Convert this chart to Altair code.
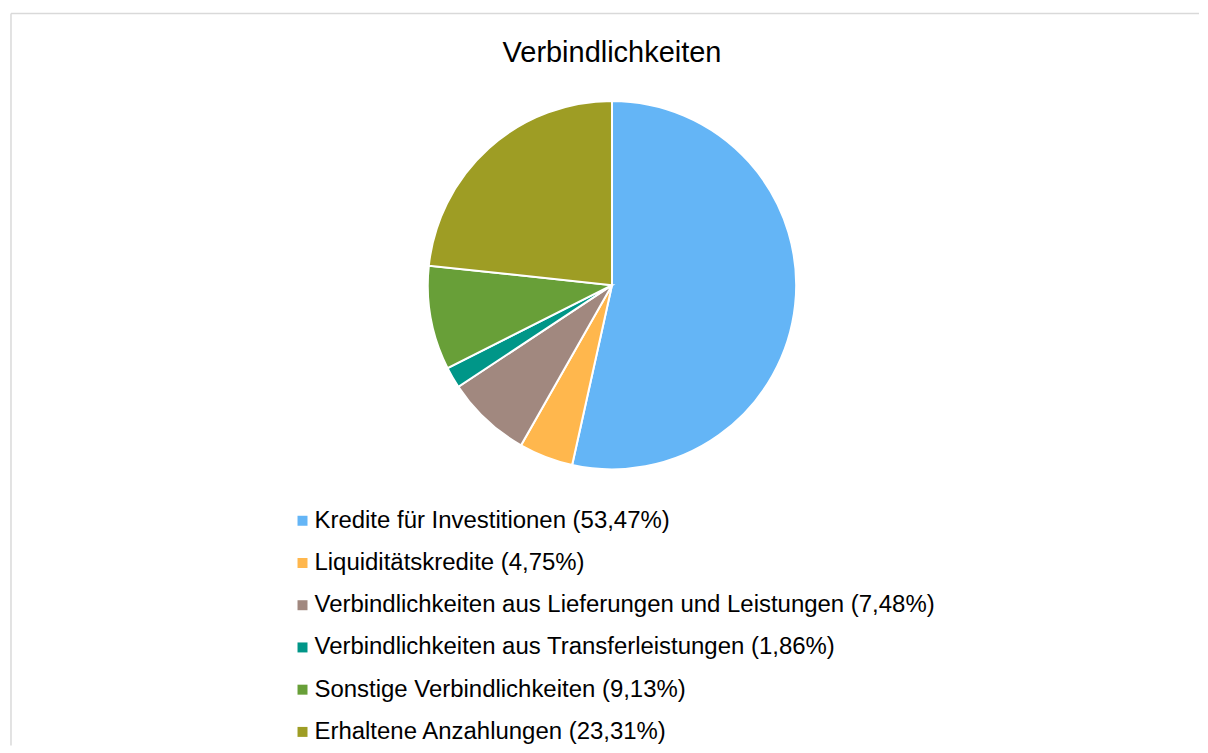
import altair as alt
import pandas as pd

title = "Verbindlichkeiten"
categories = [
    "Kredite für Investitionen",
    "Liquiditätskredite",
    "Verbindlichkeiten aus Lieferungen und Leistungen",
    "Verbindlichkeiten aus Transferleistungen",
    "Sonstige Verbindlichkeiten",
    "Erhaltene Anzahlungen",
]
shares = [53.47, 4.75, 7.48, 1.86, 9.13, 23.31]
colors = ["#64B5F6", "#FFB74D", "#A1887F", "#009688", "#689F38", "#9E9D24"]

labels = [f"{c} ({v:.2f}%)".replace(".", ",") for c, v in zip(categories, shares)]
df = pd.DataFrame({"label": labels, "value": shares, "idx": list(range(len(shares)))})

W, H = 1190, 733
FONT = "Liberation Sans"

pie = alt.Chart(df).mark_arc(stroke="white", strokeWidth=2).encode(
    theta=alt.Theta("value:Q", stack=True),
    order=alt.Order("idx:O"),
    color=alt.Color(
        "label:N",
        scale=alt.Scale(domain=labels, range=colors),
        legend=alt.Legend(
            title=None,
            orient="none",
            legendX=280,
            legendY=496,
            direction="vertical",
            symbolType="square",
            symbolSize=100,
            symbolStrokeWidth=0,
            labelFont=FONT,
            labelFontSize=24,
            labelColor="#000000",
            labelLimit=900,
            rowPadding=18.3,
            labelOffset=0,
        ),
    ),
    x=alt.value(602),
    y=alt.value(272),
    radius=alt.value(184.5),
)

tdf = pd.DataFrame({"t": [title]})
title_mark = alt.Chart(tdf).mark_text(
    font=FONT, fontSize=29, color="#000000", align="center", baseline="middle"
).encode(text="t:N", x=alt.value(602), y=alt.value(39))

border_top = alt.Chart(tdf).mark_rule(color="#d9d9d9", strokeWidth=1.5).encode(
    x=alt.value(0), x2=alt.value(W), y=alt.value(0)
)
border_left = alt.Chart(tdf).mark_rule(color="#d9d9d9", strokeWidth=1.5).encode(
    x=alt.value(0), y=alt.value(0), y2=alt.value(H)
)

chart = alt.layer(border_top, border_left, pie, title_mark).properties(
    width=W, height=H, padding={"left": 2, "top": 4, "right": 0, "bottom": 0}
).configure(background="white").configure_view(strokeWidth=0, stroke="transparent")

chart.save("out.html", embed_options={"renderer": "svg", "actions": False})
